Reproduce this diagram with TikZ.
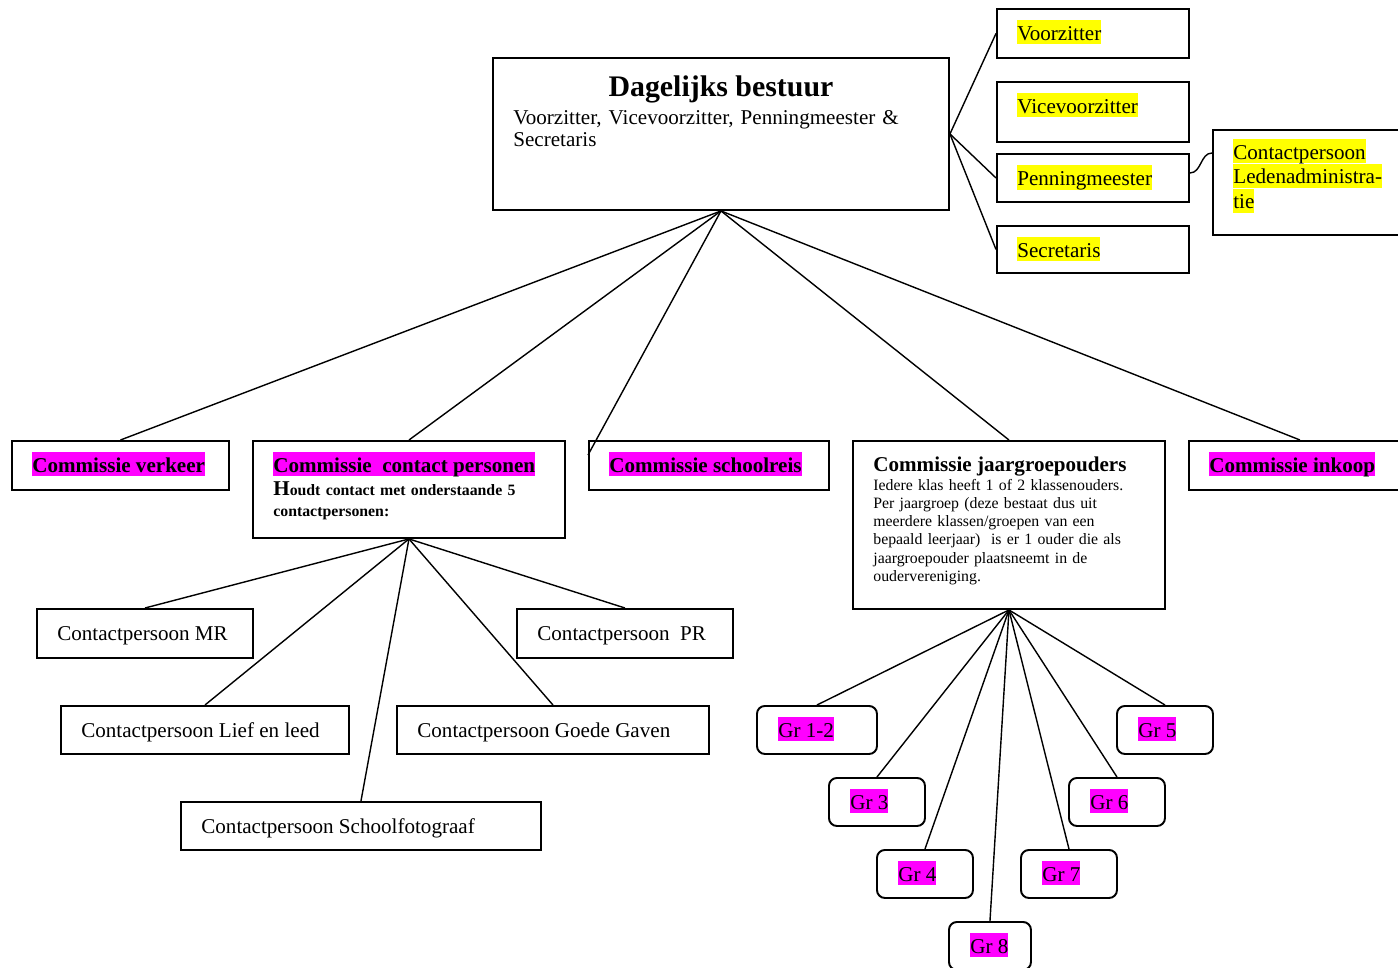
\documentclass[tikz,border=0pt]{standalone}
\usepackage{fontspec}
\setmainfont{Liberation Serif}
\usepackage{xcolor}
\definecolor{hlyel}{RGB}{255,255,0}
\definecolor{hlmag}{RGB}{255,0,255}
\newcommand{\hly}[1]{{\setlength{\fboxsep}{0pt}\colorbox{hlyel}{\rule[-2.4pt]{0pt}{13.8pt}#1}}}
\newcommand{\hlm}[1]{{\setlength{\fboxsep}{0pt}\colorbox{hlmag}{\rule[-2.4pt]{0pt}{13.8pt}#1}}}

\begin{document}
\begin{tikzpicture}[x=0.02cm, y=-0.02cm,
    box/.style 2 args={draw, line width=1.1pt, anchor=north west, inner sep=0pt,
      minimum width=#1*0.02cm, minimum height=#2*0.02cm},
    gbox/.style 2 args={box={#1}{#2}, rounded corners=4.5pt},
    lbl/.style={anchor=base west, inner sep=0pt, font=\fontsize{12}{13.8}\selectfont},
    head/.style={lbl, font=\bfseries\fontsize{12}{13.8}\selectfont},
    wire/.style={line width=0.8pt}]
        \useasboundingbox (0,0) rectangle (1398,967);
        % Paths, nodes and wires:
        \draw node[box={456}{152}] (N1) at (492,57) {}
          node[anchor=base, inner sep=0pt, font=\bfseries\fontsize{17}{20}\selectfont] (T1) at ([shift={(0,39)}]N1.north) {Dagelijks bestuur}
          node[lbl, font=\fontsize{12}{13}\selectfont, text width=8.6cm, align=left] (T2) at ([shift={(21,67)}]N1.north west) {Voorzitter, Vicevoorzitter, Penningmeester \&\\Secretaris};
        \draw node[box={192}{49}] (N2) at (996,8) {} node[lbl] (T3) at ([shift={(21,32)}]N2.north west) {\hly{Voorzitter}};
        \draw node[box={192}{60}] (N3) at (996,81) {} node[lbl] (T4) at ([shift={(21,32)}]N3.north west) {\hly{Vicevoorzitter}};
        \draw node[box={192}{48}] (N4) at (996,153) {} node[lbl] (T5) at ([shift={(21,32)}]N4.north west) {\hly{Penningmeester}};
        \draw node[box={192}{47}] (N5) at (996,225) {} node[lbl] (T6) at ([shift={(21,32)}]N5.north west) {\hly{Secretaris}};
        \draw node[box={200}{105}] (N6) at (1212,129) {}
          node[lbl, font=\fontsize{12}{14.2}\selectfont, text width=3.6cm, align=left] (T7) at ([shift={(21,30)}]N6.north west) {\hly{Contactpersoon}\\\hly{Ledenadministra-}\\\hly{tie}};
        \draw[wire] (N1.east) -- (N2.west);
        \draw[wire] (N1.east) -- (N4.west);
        \draw[wire] (N1.east) -- (N5.west);
        \draw[wire] ([shift={(0,-5)}]N4.east) to[out=0, in=180] ([shift={(0,24)}]N6.north west);
        \draw node[box={217}{49}] (N7) at (11,440) {} node[head] (T8) at ([shift={(21,32)}]N7.north west) {\hlm{Commissie verkeer}};
        \draw node[box={312}{97}] (N8) at (252,440) {} node[head] (T9) at ([shift={(21,32)}]N8.north west) {\hlm{Commissie~ contact personen}}
          node[lbl, font=\bfseries\fontsize{9}{12}\selectfont, text width=5.8cm, align=left] (T10) at ([shift={(21,55)}]N8.north west) {{\fontsize{12}{12}\selectfont H}oudt contact met onderstaande 5\\contactpersonen:};
        \draw node[box={240}{49}] (N9) at (588,440) {} node[head] (T11) at ([shift={(21,32)}]N9.north west) {\hlm{Commissie schoolreis}};
        \draw node[box={312}{168}] (N10) at (852,440) {} node[head] (T12) at ([shift={(21,31)}]N10.north west) {Commissie jaargroepouders}
          node[lbl, font=\fontsize{9}{10.4}\selectfont, text width=5.8cm, align=left] (T13) at ([shift={(21,50)}]N10.north west) {Iedere klas heeft 1 of 2 klassenouders.\\Per jaargroep (deze bestaat dus uit\\meerdere klassen/groepen van een\\bepaald leerjaar)~ is er 1 ouder die als\\jaargroepouder plaatsneemt in de\\oudervereniging.};
        \draw node[box={222}{49}] (N11) at (1188,440) {} node[head] (T14) at ([shift={(21,32)}]N11.north west) {\hlm{Commissie inkoop}};
        \draw[wire] (N1.south) -- (N7.north);
        \draw[wire] (N1.south) -- (N8.north);
        \draw[wire] (N1.south) -- ([shift={(0,15)}]N9.north west);
        \draw[wire] (N1.south) -- (N10.north);
        \draw[wire] (N1.south) -- (N11.north);
        \draw node[box={216}{49}] (N12) at (36,608) {} node[lbl] (T15) at ([shift={(21,32)}]N12.north west) {Contactpersoon MR};
        \draw node[box={216}{49}] (N13) at (516,608) {} node[lbl] (T16) at ([shift={(21,32)}]N13.north west) {Contactpersoon~ PR};
        \draw node[box={288}{48}] (N14) at (60,705) {} node[lbl] (T17) at ([shift={(21,32)}]N14.north west) {Contactpersoon Lief en leed};
        \draw node[box={312}{48}] (N15) at (396,705) {} node[lbl] (T18) at ([shift={(21,32)}]N15.north west) {Contactpersoon Goede Gaven};
        \draw node[box={360}{48}] (N16) at (180,801) {} node[lbl] (T19) at ([shift={(21,32)}]N16.north west) {Contactpersoon Schoolfotograaf};
        \draw[wire] (N8.south) -- (N12.north);
        \draw[wire] (N8.south) -- (N13.north);
        \draw[wire] (N8.south) -- (N14.north);
        \draw[wire] (N8.south) -- (N15.north);
        \draw[wire] (N8.south) -- (N16.north);
        \draw node[gbox={120}{48}] (N17) at (756,705) {} node[lbl] (T20) at ([shift={(22,32)}]N17.north west) {\hlm{Gr 1-2}};
        \draw node[gbox={96}{48}] (N18) at (828,777) {} node[lbl] (T21) at ([shift={(22,32)}]N18.north west) {\hlm{Gr 3}};
        \draw node[gbox={96}{48}] (N19) at (876,849) {} node[lbl] (T22) at ([shift={(22,32)}]N19.north west) {\hlm{Gr 4}};
        \draw node[gbox={82}{48}] (N20) at (948,921) {} node[lbl] (T23) at ([shift={(22,32)}]N20.north west) {\hlm{Gr 8}};
        \draw node[gbox={96}{48}] (N21) at (1020,849) {} node[lbl] (T24) at ([shift={(22,32)}]N21.north west) {\hlm{Gr 7}};
        \draw node[gbox={96}{48}] (N22) at (1068,777) {} node[lbl] (T25) at ([shift={(22,32)}]N22.north west) {\hlm{Gr 6}};
        \draw node[gbox={96}{48}] (N23) at (1116,705) {} node[lbl] (T26) at ([shift={(22,32)}]N23.north west) {\hlm{Gr 5}};
        \draw[wire] (N10.south) -- (N17.north);
        \draw[wire] (N10.south) -- (N18.north);
        \draw[wire] (N10.south) -- (N19.north);
        \draw[wire] (N10.south) -- (N20.north);
        \draw[wire] (N10.south) -- (N21.north);
        \draw[wire] (N10.south) -- (N22.north);
        \draw[wire] (N10.south) -- (N23.north);
\end{tikzpicture}
\end{document}
